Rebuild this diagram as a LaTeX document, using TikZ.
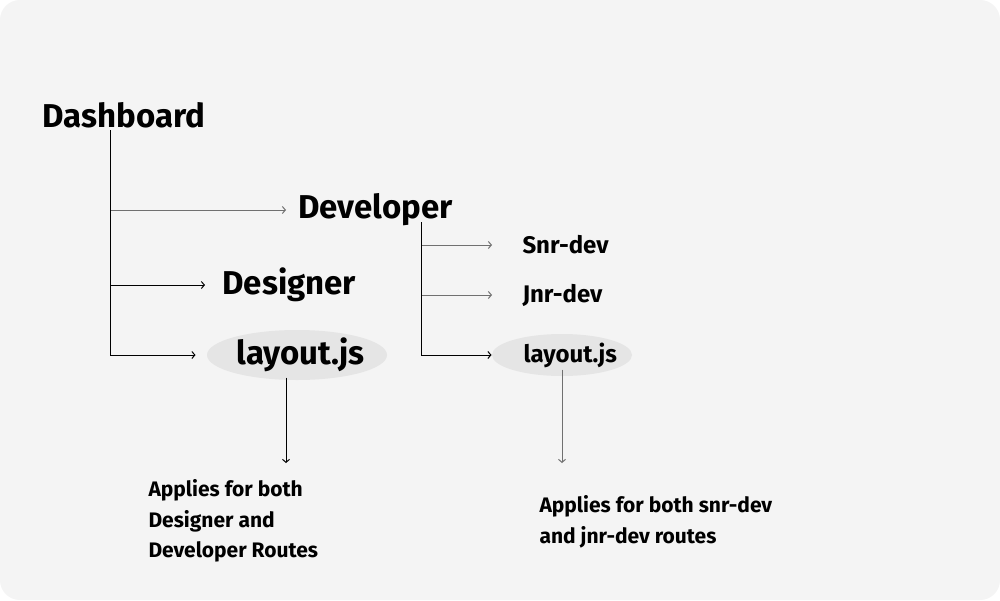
\documentclass[tikz,border=0pt]{standalone}
\usepackage{fontspec}
\setmainfont{Fira Sans}
\usetikzlibrary{arrows.meta,shapes.geometric}
\definecolor{bgcol}{HTML}{F4F4F4}
\definecolor{ovalcol}{HTML}{E5E5E5}
\definecolor{linegray}{HTML}{707070}

\tikzset{every picture/.style={line width=1pt}}

\begin{document}
\begin{tikzpicture}[x=1pt,y=-1pt,
	conn/.style={-{Straight Barb[length=3pt,width=7pt]}},
	big/.style={font=\fontsize{33}{40}\selectfont\bfseries, inner sep=0pt, anchor=west},
	small/.style={font=\fontsize{24}{29}\selectfont\bfseries, inner sep=0pt, anchor=west},
	note/.style={font=\fontsize{21}{30.5}\selectfont\bfseries, inner sep=0pt, anchor=north west, align=left},
	oval/.style={ellipse, fill=ovalcol, inner sep=0pt}]
	\useasboundingbox (0,0) rectangle (1000,600);

	%Shape: Background
	\fill [white] (0,0) rectangle (1000,600);
	\fill [bgcol, rounded corners=20pt] (0,0) rectangle (1000,600);

	%Shape: Ellipses
	\node [oval, minimum width=180, minimum height=50] (lay1) at (297,355) {};
	\node [oval, minimum width=140, minimum height=42] (lay2) at (562,355) {};

	% Text Node
	\node [big] (dash) at (42,115) {Dashboard};
	% Text Node
	\node [big] (dev) at (298,210) {Developer};
	% Text Node
	\node [big] (des) at (222,285) {Designer};
	% Text Node
	\node [big] (laytext1) at (236,355) {layout.js};
	% Text Node
	\node [small] (snr) at (522,245) {Snr-dev};
	% Text Node
	\node [small] (jnr) at (522,295) {Jnr-dev};
	% Text Node
	\node [small] (laytext2) at (523,355) {layout.js};
	% Text Node
	\node [note] (note1) at (148,479) {Applies for both\\Designer and\\Developer Routes};
	% Text Node
	\node [note] (note2) at (539,495) {Applies for both snr-dev\\and jnr-dev routes};

	\coordinate (dashtrunk) at (110,130);
	\coordinate (devtrunk) at (421,222);

	%Straight Lines: Dashboard branches
	\draw [conn, linegray] (dashtrunk) |- ([xshift=-12]dev.west);
	\draw [conn] (dashtrunk) |- ([xshift=-17]des.west);
	\draw [conn] (dashtrunk) |- ([xshift=-11]lay1.west);

	%Straight Lines: Developer branches
	\draw [conn, linegray] (devtrunk) |- ([xshift=-30]snr.west);
	\draw [conn, linegray] (devtrunk) |- ([xshift=-30]jnr.west);
	\draw [conn] (devtrunk) |- (lay2.west);

	%Straight Lines: notes
	\draw [conn] ([yshift=3]lay1.south -| 286,0) -- (286,463);
	\draw [conn, linegray] ([yshift=7]lay2.south) -- (562,463);

\end{tikzpicture}
\end{document}
